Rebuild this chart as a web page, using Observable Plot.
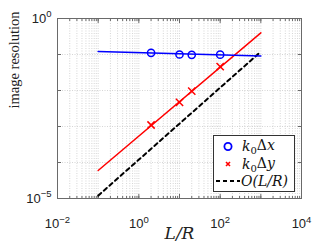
<!DOCTYPE html>
<html><head><meta charset="utf-8">
<script src="https://cdn.jsdelivr.net/npm/d3@7"></script>
<script src="https://cdn.jsdelivr.net/npm/@observablehq/plot@0.6"></script>
<style>body{margin:0;background:#fff}</style>
</head><body><div id="chart"></div>
<script>
// fitted lines (endpoints) and sampled markers
const fitX = [0.1, 1000];
const blueFitY = [0.121, 0.091];
const redFitY = [6e-5, 0.4];
const orderX = [0.1, 1000];
const orderY = [1.2e-5, 0.12];
const sampleX = [2, 10, 20, 100];
const blueY = [0.111, 0.1, 0.098, 0.099];
const redY = [1.1e-3, 4.7e-3, 9.6e-3, 0.046];
const xTickLabels = [1e-2, 1, 1e2, 1e4];
const yTickLabels = [1e-5, 1];
const yDecades = [1e-5, 1e-4, 1e-3, 1e-2, 1e-1, 1];
const xDecades = [1e-2, 1e-1, 1, 1e1, 1e2, 1e3, 1e4];
const xAllTicks = d3.scaleLog().domain([1e-2, 1e4]).ticks();
const legendLabels = ["k0Δx", "k0Δy", "O(L/R)"];

const blueFit = fitX.map((x, i) => ({x, y: blueFitY[i]}));
const redFit = fitX.map((x, i) => ({x, y: redFitY[i]}));
const order = orderX.map((x, i) => ({x, y: orderY[i]}));
const blue = sampleX.map((x, i) => ({x, y: blueY[i]}));
const red = sampleX.map((x, i) => ({x, y: redY[i]}));

const blueC = "#0000ff", redC = "#ff0000";
const axisC = "#6a6a6a";
const gridC = "#c4c4c4";
const tickFmt = d => "10^" + Math.round(Math.log10(d));

const svg = Plot.plot({
  width: 332, height: 249,
  marginLeft: 57, marginRight: 31, marginTop: 18, marginBottom: 51,
  style: {fontFamily: "'Liberation Sans', Arial, sans-serif", fontSize: "12px", background: "#fff", overflow: "visible"},
  x: {type: "log", domain: [1e-2, 1e4]},
  y: {type: "log", domain: [1e-5, 1]},
  marks: [
    Plot.gridX(xAllTicks, {stroke: gridC, strokeOpacity: 1, strokeDasharray: "1,1.5", strokeWidth: 0.7}),
    Plot.gridY(yDecades, {stroke: gridC, strokeOpacity: 1, strokeDasharray: "1,1.5", strokeWidth: 0.7}),
    Plot.axisX(xAllTicks, {anchor: "bottom", tickSize: -2, tickFormat: () => "", label: null, stroke: axisC}),
    Plot.axisX(xAllTicks, {anchor: "top", tickSize: -2, tickFormat: () => "", label: null, stroke: axisC}),
    Plot.axisX(xDecades, {anchor: "bottom", tickSize: -4, tickFormat: () => "", label: null, stroke: axisC}),
    Plot.axisX(xDecades, {anchor: "top", tickSize: -4, tickFormat: () => "", label: null, stroke: axisC}),
    Plot.axisY(yDecades, {anchor: "left", tickSize: -4, tickFormat: () => "", label: null, stroke: axisC}),
    Plot.axisY(yDecades, {anchor: "right", tickSize: -4, tickFormat: () => "", label: null, stroke: axisC}),
    Plot.axisX(xTickLabels, {anchor: "bottom", tickSize: 0, tickPadding: 20, tickFormat: tickFmt, label: null, fill: "#222"}),
    Plot.axisY(yTickLabels, {anchor: "left", tickSize: 0, tickPadding: 6, tickFormat: tickFmt, label: null, fill: "#222"}),
    Plot.frame({stroke: axisC}),
    Plot.line(order, {x: "x", y: "y", stroke: "#000", strokeWidth: 2, strokeDasharray: "4,3.5"}),
    Plot.line(redFit, {x: "x", y: "y", stroke: redC, strokeWidth: 1.5}),
    Plot.line(blueFit, {x: "x", y: "y", stroke: blueC, strokeWidth: 1.6}),
    Plot.dot(blue, {x: "x", y: "y", r: 3.6, stroke: blueC, strokeWidth: 1.5, fill: "none"}),
    Plot.dot(red, {x: "x", y: "y", r: 3.4, symbol: "times", stroke: redC, strokeWidth: 1.5}),
    Plot.text(["image resolution"], {frameAnchor: "left", dx: -43, dy: 0, rotate: -90, fontFamily: "'Liberation Serif', serif", fontSize: 14.5, fill: "#222"}),
    Plot.text(["L/R"], {frameAnchor: "bottom", dy: 40, fontFamily: "'DejaVu Serif', serif", fontStyle: "italic", fontSize: 17, fill: "#222"})
  ]
});

// superscripts for tick labels
d3.select(svg).selectAll("g[aria-label$='tick label']").attr("font-size", null);
d3.select(svg).selectAll("g[aria-label$='tick label'] text").each(function() {
  const t = d3.select(this);
  const s = t.text();
  if (!s.startsWith("10^")) return;
  const e = s.slice(3).replace("-", "\u2212");
  t.text("").attr("font-size", 13).style("font-size", "13px");
  t.append("tspan").text("10");
  t.append("tspan").attr("dy", "-0.55em").attr("font-size", 9.5).style("font-size", "9.5px").text(e);
});

// legend
const lg = d3.select(svg).append("g").attr("font-family", "'DejaVu Serif', serif").attr("fill", "#111").attr("text-anchor", "start");
lg.append("rect").attr("x", 213.5).attr("y", 135.5).attr("width", 81).attr("height", 56)
  .attr("fill", "#fff").attr("stroke", "#333").attr("stroke-width", 1);
const rows = [146.5, 164, 181];
lg.append("circle").attr("cx", 228).attr("cy", rows[0]).attr("r", 3.6).attr("fill", "none").attr("stroke", blueC).attr("stroke-width", 1.8);
lg.append("path").attr("d", `M226,${rows[1]-2}l4,4M230,${rows[1]-2}l-4,4`).attr("stroke", redC).attr("stroke-width", 1.6);
lg.append("line").attr("x1", 216).attr("x2", 240).attr("y1", rows[2]).attr("y2", rows[2]).attr("stroke", "#000").attr("stroke-width", 2).attr("stroke-dasharray", "4,3");
function mathLabel(y, main, sub, delta, v) {
  const t = lg.append("text").attr("x", 242).attr("y", y).attr("dy", "0.35em").attr("font-size", 14);
  t.append("tspan").attr("font-style", "italic").text(main);
  t.append("tspan").attr("font-size", 10).attr("dy", "0.3em").text(sub);
  t.append("tspan").attr("dy", "-0.3em").attr("font-size", 14).text(delta);
  t.append("tspan").attr("font-style", "italic").text(v);
}
mathLabel(rows[0], legendLabels[0][0], legendLabels[0][1], legendLabels[0][2], legendLabels[0][3]);
mathLabel(rows[1], legendLabels[1][0], legendLabels[1][1], legendLabels[1][2], legendLabels[1][3]);
lg.append("text").attr("x", 241).attr("y", rows[2]).attr("dy", "0.35em").attr("font-size", 14).attr("font-style", "italic").text(legendLabels[2]);

document.getElementById("chart").appendChild(svg);
</script>
</body></html>
